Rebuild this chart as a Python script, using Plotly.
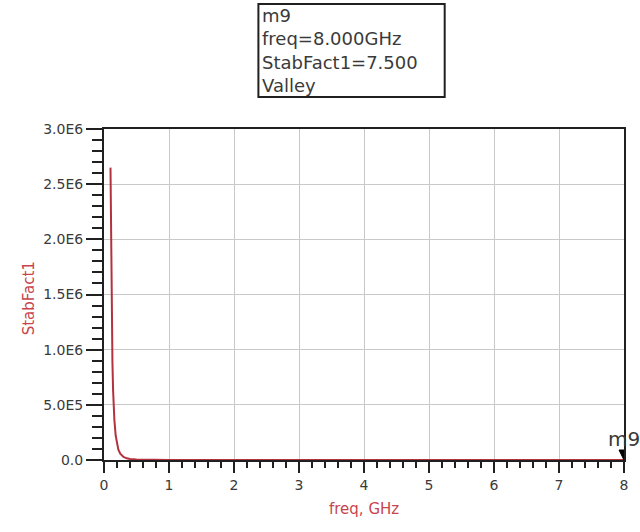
import plotly.graph_objects as go

# Stability factor sweep (freq in GHz)
freq = [0.10, 0.11, 0.12, 0.13, 0.14, 0.15, 0.16, 0.18, 0.20, 0.22, 0.25,
        0.30, 0.35, 0.40, 0.50, 0.60, 0.70, 0.80, 1.0, 1.5, 2.0, 3.0, 4.0,
        5.0, 6.0, 7.0, 8.0]
stab_fact1 = [2.65e6, 1.74e6, 1.25e6, 0.88e6, 0.63e6, 0.47e6, 0.36e6, 0.22e6,
              0.14e6, 0.095e6, 0.058e6, 0.027e6, 0.015e6, 0.009e6, 4500, 2500,
              1500, 900, 400, 90, 30, 15, 10, 9.0, 8.2, 7.8, 7.5]

# Marker m9
marker_name = "m9"
marker_freq = [8.0]
marker_val = [7.5]
marker_lines = ["m9", "freq=8.000GHz", "StabFact1=7.500", "Valley"]

x_ticks = [0, 1, 2, 3, 4, 5, 6, 7, 8]
y_ticks = [0, 5e5, 1e6, 1.5e6, 2e6, 2.5e6, 3e6]
y_tick_text = ["0.0", "5.0E5", "1.0E6", "1.5E6", "2.0E6", "2.5E6", "3.0E6"]

W, H = 640, 532
ML, MR, MT, MB = 104, 14, 129, 72
PW, PH = W - ML - MR, H - MT - MB


def px_x(px):
    return (px - ML) / PW


def px_y(py):
    return (H - MB - py) / PH


RED = "#c8454d"
TXT = "#3a3a3a"
AX = "#202020"
FONT = "DejaVu Sans"

fig = go.Figure()
fig.add_trace(go.Scatter(x=freq, y=stab_fact1, mode="lines",
                         line=dict(color="#b2323e", width=2),
                         hoverinfo="skip", showlegend=False))

axis_common = dict(showline=True, linecolor=AX, linewidth=2, mirror=True,
                   ticks="outside", tickcolor=AX, tickwidth=2,
                   showgrid=True, gridcolor="#c9c9c9", gridwidth=1,
                   zeroline=False, tickfont=dict(family=FONT, size=14, color=TXT))

fig.update_xaxes(range=[0, 8], tickvals=x_ticks, ticklen=11,
                 minor=dict(dtick=0.2, ticklen=6, tickcolor=AX, tickwidth=2,
                            ticks="outside", showgrid=False),
                 layer="below traces", **axis_common)
fig.update_yaxes(range=[0, 3e6], tickvals=y_ticks, ticktext=y_tick_text,
                 ticklen=16,
                 minor=dict(dtick=1e5, ticklen=10, tickcolor=AX, tickwidth=2,
                            ticks="outside", showgrid=False),
                 **axis_common)

annotations = [
    dict(text="StabFact1", x=px_x(18), y=px_y(298), xref="paper", yref="paper",
         textangle=-90, showarrow=False, font=dict(family=FONT, size=15, color=RED)),
    dict(text="freq, GHz", x=px_x(365), y=px_y(520), xref="paper", yref="paper",
         showarrow=False, font=dict(family=FONT, size=15, color=RED)),
    dict(text=marker_name, x=marker_freq[0], y=marker_val[0], xref="x", yref="y",
         xanchor="left", yanchor="bottom", xshift=-18, yshift=7, showarrow=False,
         font=dict(family=FONT, size=20, color=TXT)),
    # marker readout box
    dict(text="<br>".join(marker_lines), x=px_x(261), y=px_y(3),
         xref="paper", yref="paper", xanchor="left", yanchor="top",
         align="left", showarrow=False,
         font=dict(family=FONT, size=18, color=TXT)),
]

shapes = [
    dict(type="rect", xref="paper", yref="paper",
         x0=px_x(259), x1=px_x(446), y0=px_y(4), y1=px_y(97),
         line=dict(color=AX, width=2), fillcolor="rgba(0,0,0,0)"),
    dict(type="path", xref="x", yref="y", xsizemode="pixel", ysizemode="pixel",
         xanchor=marker_freq[0], yanchor=marker_val[0],
         path="M -5,10 L 5,10 L 0,0 Z", fillcolor="#000000",
         line=dict(color="#000000", width=1), layer="above"),
]

fig.update_layout(width=W, height=H, margin=dict(l=ML, r=MR, t=MT, b=MB),
                  paper_bgcolor="white", plot_bgcolor="white",
                  annotations=annotations, shapes=shapes, showlegend=False)

fig.write_html("out.html")
